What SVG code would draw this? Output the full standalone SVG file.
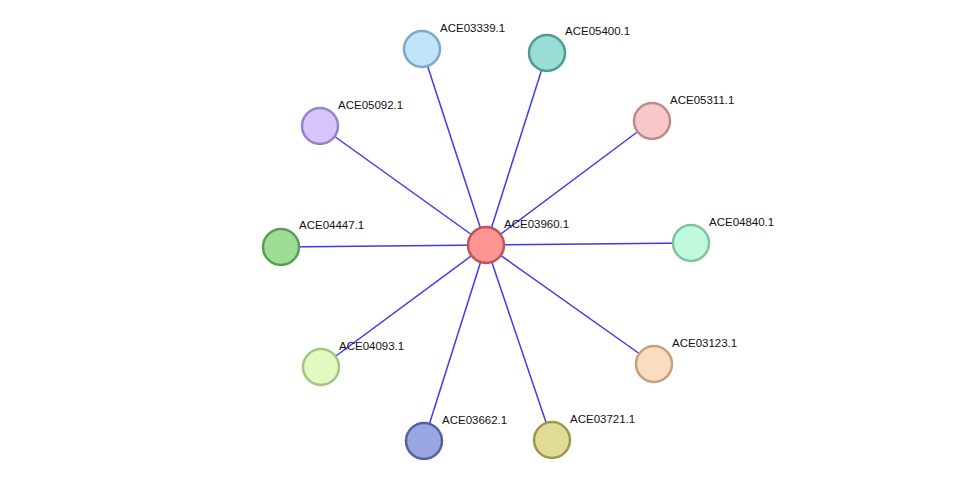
<svg xmlns="http://www.w3.org/2000/svg" width="976" height="487" viewBox="0 0 976 487">
<style>
.e{stroke:#3b3bf0;stroke-width:1.5}
.n{stroke-width:2.5}
text{font-family:"Liberation Sans",Arial,sans-serif;font-size:11.5px;fill:#111}
</style>
<rect width="976" height="487" fill="#fff"/>
<g id="edges">
<line class="e" x1="486" y1="245" x2="422" y2="49"/>
<line class="e" x1="486" y1="245" x2="547" y2="53"/>
<line class="e" x1="486" y1="245" x2="652" y2="121"/>
<line class="e" x1="486" y1="245" x2="320" y2="126"/>
<line class="e" x1="486" y1="245" x2="281" y2="247"/>
<line class="e" x1="486" y1="245" x2="691" y2="243"/>
<line class="e" x1="486" y1="245" x2="321" y2="367"/>
<line class="e" x1="486" y1="245" x2="654" y2="364"/>
<line class="e" x1="486" y1="245" x2="424" y2="441"/>
<line class="e" x1="486" y1="245" x2="552" y2="440"/>
</g>
<g id="ACE03339.1"><circle class="n" cx="422" cy="49" r="18" fill="#c0e4fa" stroke="#7ea8c4"/><text x="440" y="32">ACE03339.1</text></g>
<g id="ACE05400.1"><circle class="n" cx="547" cy="53" r="18" fill="#98ded6" stroke="#4f9a92"/><text x="565" y="35">ACE05400.1</text></g>
<g id="ACE05311.1"><circle class="n" cx="652" cy="121" r="18" fill="#f8c8c8" stroke="#c08a8c"/><text x="670" y="104">ACE05311.1</text></g>
<g id="ACE05092.1"><circle class="n" cx="320" cy="126" r="18" fill="#d6c4fa" stroke="#9a84c8"/><text x="338" y="109">ACE05092.1</text></g>
<g id="ACE04447.1"><circle class="n" cx="281" cy="247" r="18" fill="#9ede94" stroke="#5a9c52"/><text x="299" y="229">ACE04447.1</text></g>
<g id="ACE04840.1"><circle class="n" cx="691" cy="243" r="18" fill="#c0fadc" stroke="#80c4a0"/><text x="709" y="226">ACE04840.1</text></g>
<g id="ACE04093.1"><circle class="n" cx="321" cy="367" r="18" fill="#e2fac0" stroke="#a2c484"/><text x="339" y="350">ACE04093.1</text></g>
<g id="ACE03123.1"><circle class="n" cx="654" cy="364" r="18" fill="#fadcc0" stroke="#c4a07e"/><text x="672" y="347">ACE03123.1</text></g>
<g id="ACE03662.1"><circle class="n" cx="424" cy="441" r="18" fill="#9aa6e2" stroke="#56609e"/><text x="442" y="424">ACE03662.1</text></g>
<g id="ACE03721.1"><circle class="n" cx="552" cy="440" r="18" fill="#e0dc96" stroke="#9c9852"/><text x="570" y="423">ACE03721.1</text></g>
<g id="ACE03960.1"><circle class="n" cx="486" cy="245" r="18" fill="#ff9494" stroke="#c05454"/><text x="504" y="228">ACE03960.1</text></g>
</svg>
